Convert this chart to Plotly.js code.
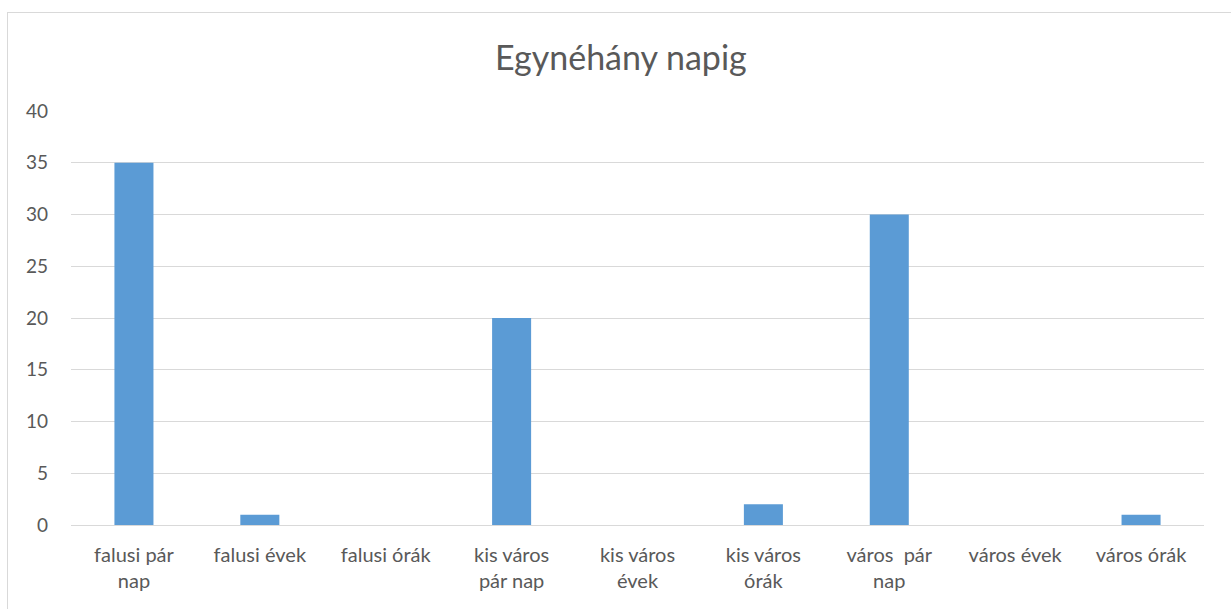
<!DOCTYPE html>
<html>
<head>
<meta charset="utf-8">
<script src="https://cdn.plot.ly/plotly-3.0.1.min.js"></script>
<style>
html,body{margin:0;padding:0;background:#fff;overflow:hidden;}
#chart{position:absolute;left:7px;top:12px;width:1240px;height:620px;border:1px solid #d9d9d9;box-sizing:border-box;}
</style>
</head>
<body>
<div id="chart"></div>
<script>
const categories = ["falusi pár<br>nap","falusi évek","falusi órák","kis város<br>pár nap","kis város<br>évek","kis város<br>órák","város\u00a0 pár<br>nap","város évek","város órák"];
const values = [35, 1, 0, 20, 0, 2, 30, 0, 1];
const yTicks = [0, 5, 10, 15, 20, 25, 30, 35, 40];
const titleText = "Egynéhány napig";

const font = "Lato, 'Open Sans', sans-serif";
Plotly.newPlot('chart', [{
  type: 'bar',
  x: categories,
  y: values,
  marker: {color: '#5b9bd5'},
  hoverinfo: 'skip'
}], {
  width: 1238, height: 618,
  margin: {l: 63, r: 42, t: 98, b: 106},
  paper_bgcolor: '#fff', plot_bgcolor: '#fff',
  bargap: 0.69,
  showlegend: false,
  font: {family: font, color: '#595959', size: 19},
  title: {text: titleText, font: {family: font, size: 34, color: '#595959'}, x: 0.495, xanchor: 'center', xref: 'container', y: 0.927, yref: 'container', yanchor: 'middle'},
  xaxis: {type: 'category', showgrid: false, zeroline: false, showline: false, ticks: '', ticklabelstandoff: 16, tickfont: {size: 20, color: '#595959'}},
  yaxis: {range: [0, 40], tickvals: yTicks, showgrid: true, gridcolor: '#d9d9d9', gridwidth: 1, zeroline: true, zerolinecolor: '#d9d9d9', zerolinewidth: 1, showline: false, ticks: '', ticklabelstandoff: 22, tickfont: {size: 19, color: '#595959'}}
}, {displayModeBar: false, staticPlot: true});
</script>
</body>
</html>
